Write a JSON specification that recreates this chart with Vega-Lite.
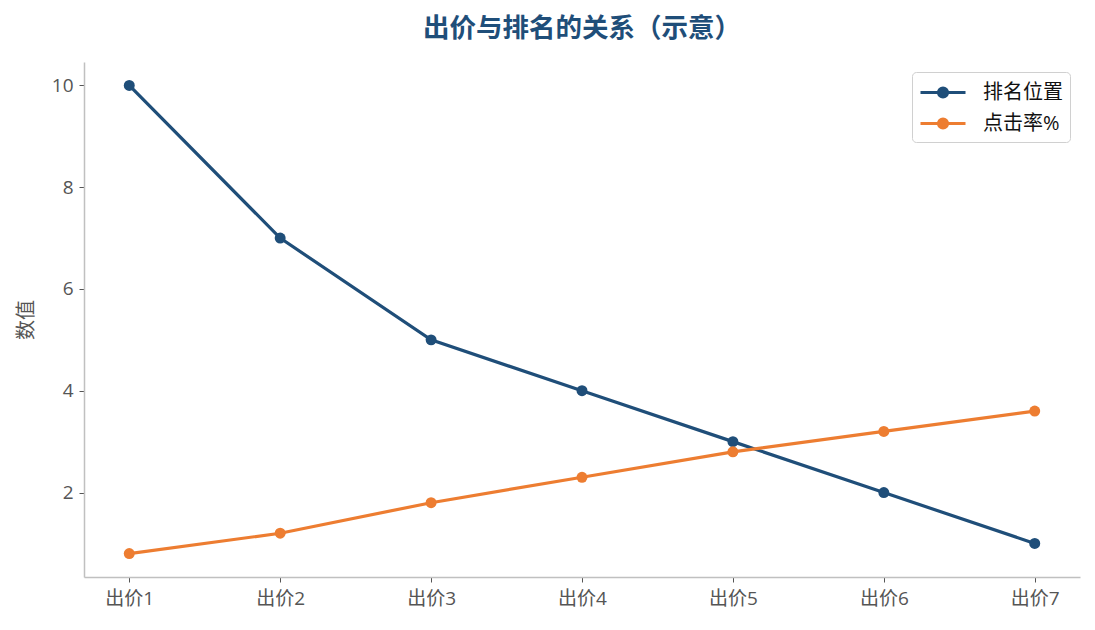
{
  "$schema": "https://vega.github.io/schema/vega-lite/v6.json",
  "autosize": {"type": "none"},
  "width": 996,
  "height": 515,
  "padding": {"left": 84, "top": 62, "right": 15, "bottom": 53},
  "title": {
    "text": "出价与排名的关系（示意）",
    "font": "Noto Sans CJK SC",
    "fontSize": 26.5,
    "fontWeight": "bold",
    "color": "#1f4e79",
    "anchor": "middle",
    "offset": 20
  },
  "data": {
    "values": [
      {"bid": "出价1", "series": "排名位置", "value": 10},
      {"bid": "出价2", "series": "排名位置", "value": 7},
      {"bid": "出价3", "series": "排名位置", "value": 5},
      {"bid": "出价4", "series": "排名位置", "value": 4},
      {"bid": "出价5", "series": "排名位置", "value": 3},
      {"bid": "出价6", "series": "排名位置", "value": 2},
      {"bid": "出价7", "series": "排名位置", "value": 1},
      {"bid": "出价1", "series": "点击率%", "value": 0.8},
      {"bid": "出价2", "series": "点击率%", "value": 1.2},
      {"bid": "出价3", "series": "点击率%", "value": 1.8},
      {"bid": "出价4", "series": "点击率%", "value": 2.3},
      {"bid": "出价5", "series": "点击率%", "value": 2.8},
      {"bid": "出价6", "series": "点击率%", "value": 3.2},
      {"bid": "出价7", "series": "点击率%", "value": 3.6}
    ]
  },
  "encoding": {
    "x": {
      "field": "bid",
      "type": "ordinal",
      "scale": {"type": "point", "padding": 0.3},
      "axis": {"title": null, "labelAngle": 0, "labelPadding": 7}
    },
    "y": {
      "field": "value",
      "type": "quantitative",
      "scale": {"domain": [0.34, 10.46], "nice": false, "zero": false},
      "axis": {"title": "数值", "values": [2, 4, 6, 8, 10], "grid": false, "titlePadding": 15}
    },
    "color": {
      "field": "series",
      "type": "nominal",
      "scale": {"domain": ["排名位置", "点击率%"], "range": ["#1f4e79", "#ed7d31"]},
      "legend": {
        "title": null,
        "orient": "top-right",
        "offset": 10,
        "symbolType": "M-1,0L2.75,0M1.255,0A0.38,0.38,0,1,1,0.495,0A0.38,0.38,0,1,1,1.255,0Z",
        "symbolSize": 576,
        "symbolStrokeWidth": 3,
        "labelFont": "Open Sans, Noto Sans CJK SC",
        "labelFontSize": 20,
        "labelColor": "#111111",
        "labelOffset": 37,
        "strokeColor": "#d0d0d0",
        "cornerRadius": 4,
        "padding": 7,
        "rowPadding": 6,
        "fillColor": "#ffffff"
      }
    }
  },
  "layer": [
    {"mark": {"type": "line", "strokeWidth": 3.2}},
    {"mark": {"type": "point", "filled": true, "size": 120, "opacity": 1}}
  ],
  "config": {
    "view": {"stroke": null},
    "axis": {
      "labelFont": "Open Sans, Noto Sans CJK SC",
      "labelFontSize": 19,
      "labelColor": "#555555",
      "titleFont": "Noto Sans CJK SC",
      "titleFontSize": 20,
      "titleFontWeight": "normal",
      "titleColor": "#555555",
      "domainColor": "#c0c0c0",
      "domainWidth": 1.5,
      "tickColor": "#555555",
      "tickSize": 5,
      "labelPadding": 6
    }
  }
}
